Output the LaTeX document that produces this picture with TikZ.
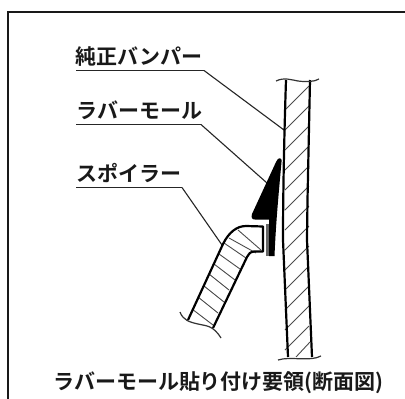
\documentclass[tikz,border=0pt]{standalone}
\usepackage{fontspec}
\newfontfamily\cjk{Noto Sans CJK JP Bold}
\tikzset{
  frameline/.style={line width=2pt,black!90},
  wall/.style={line width=2.2pt,black},
  hatch/.style={line width=0.9pt,black!70},
  leader/.style={line width=1.1pt,black!85},
  underline/.style={line width=1.4pt,black!85},
  breakline/.style={line width=1.2pt,black!80},
  lab/.style={font=\cjk\fontsize{21}{23}\selectfont,inner sep=0pt,anchor=base west,text=black!90}
}
\begin{document}
\begin{tikzpicture}[x=1pt,y=-1pt]
\useasboundingbox (0,0) rectangle (405,399);
\fill[white] (0,0) rectangle (405,399);
% frame
\draw[frameline] (8,399) -- (8,11.5) -- (405,11.5);
% labels
\node[lab] (a) at (75,64) {純正バンパー};
\node[lab] (b) at (76,118) {ラバーモール};
\node[lab] (c) at (76,181) {スポイラー};
\node[lab] (d) at (53,389) {ラバーモール貼り付け要領(断面図)};
% leaders
\coordinate (a0) at (76,70.5);
\coordinate (a2) at (204,70.5);
\coordinate (a1) at (284,130);
\coordinate (b0) at (76,124.5);
\coordinate (b2) at (201,124.5);
\coordinate (b1) at (267,183);
\coordinate (c0) at (76,187.5);
\coordinate (c2) at (182,187.5);
\coordinate (c1) at (222,245);
\draw[underline] (a0) -- (a2);
\draw[leader] (a2) -- (a1);
\draw[underline] (b0) -- (b2);
\draw[leader] (b2) -- (b1);
\draw[underline] (c0) -- (c2);
\draw[leader] (c2) -- (c1);
% bumper hatching
\foreach \y in {110,130,...,350}
  \draw[hatch] (285,\y) -- (309,\y-24);
\draw[hatch] (296,357) -- (310,342);
% bumper walls
\draw[wall] (286,80) .. controls (284,140) and (283,200) .. (283,240) -- (288,357);
\draw[wall] (310,80) -- (307.5,200) -- (307,240) -- (312,357);
\draw[breakline] (276,81) .. controls (284,77) and (292,80) .. (298,81) .. controls (306,82) and (314,82) .. (319,79);
\draw[breakline] (278,360) .. controls (290,356) and (310,362) .. (321,356);
% rubber moulding
\fill[black] (281.7,160) .. controls (280,157) and (278,158) .. (276,162) -- (252,214) .. controls (251,218) and (252,219.5) .. (255,219.5) -- (269,219.5) -- (269,256) -- (274.5,256) .. controls (276,220) and (279,190) .. (281.7,160) -- cycle;
\fill[black!60] (266,224) rectangle (269,255.5);
% spoiler hatching
\foreach \ax/\ay/\bx/\by in {
  238/230/261/250, 229/238/256/253, 224/243/246/258, 219/254/240/269,
  214/264/235/280, 209/274/229/290, 204/286/224/302, 198/297/218/313, 192/309/213/325}
  \draw[hatch] (\ax,\ay) -- (\bx,\by);
% spoiler outline
\draw[wall,line join=round] (188,320) -- (223,244) .. controls (229,232) and (237,226) .. (246,226) -- (263,226.5) -- (263,251.5) -- (254,251.5) .. controls (250,252) and (248.5,254) .. (247,257) -- (213,328);
\draw[breakline] (180,312) .. controls (183,320) and (189,322) .. (198,324) .. controls (206,326) and (213,325) .. (221,338);
\end{tikzpicture}
\end{document}
